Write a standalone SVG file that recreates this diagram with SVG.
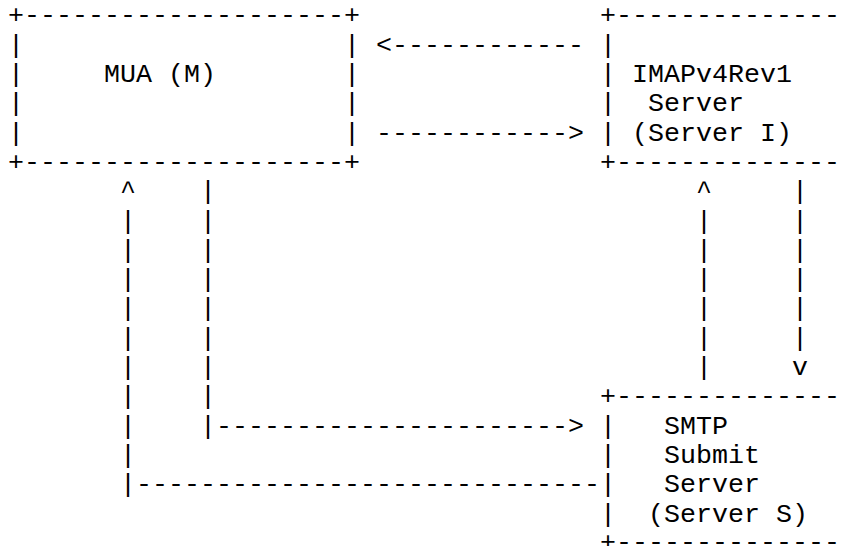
<svg xmlns="http://www.w3.org/2000/svg" width="846" height="546" viewBox="0 0 846 546">
<style>
text { font-family: "Liberation Mono", "Courier New", monospace; font-size: 26.66px; fill: #000; white-space: pre; }
</style>
<rect width="846" height="546" fill="#fff"/>
<g id="node-mua">
  <text x="8" y="23.4">+--------------------+</text>
  <text><tspan x="8" y="52.7">|</tspan><tspan x="8" y="82">|</tspan><tspan x="8" y="111.3">|</tspan><tspan x="8" y="140.6">|</tspan></text>
  <text><tspan x="344" y="52.7">|</tspan><tspan x="344" y="82">|</tspan><tspan x="344" y="111.3">|</tspan><tspan x="344" y="140.6">|</tspan></text>
  <text x="104" y="82">MUA (M)</text>
  <text x="8" y="169.9">+--------------------+</text>
</g>
<g id="node-imap">
  <text x="600" y="23.4">+--------------</text>
  <text><tspan x="600" y="52.7">|</tspan><tspan x="600" y="82">|</tspan><tspan x="600" y="111.3">|</tspan><tspan x="600" y="140.6">|</tspan></text>
  <text x="632" y="82">IMAPv4Rev1</text>
  <text x="648" y="111.3">Server</text>
  <text x="632" y="140.6">(Server I)</text>
  <text x="600" y="169.9">+--------------</text>
</g>
<g id="node-smtp">
  <text x="600" y="404.3">+--------------</text>
  <text><tspan x="600" y="433.6">|</tspan><tspan x="600" y="462.9">|</tspan><tspan x="600" y="492.2">|</tspan><tspan x="600" y="521.5">|</tspan></text>
  <text x="664" y="433.6">SMTP</text>
  <text x="664" y="462.9">Submit</text>
  <text x="664" y="492.2">Server</text>
  <text x="648" y="521.5">(Server S)</text>
  <text x="600" y="550">+--------------</text>
</g>
<g id="connectors">
  <text x="376" y="52.7">&lt;------------</text>
  <text x="376" y="140.6">------------&gt;</text>
  <text><tspan x="120" y="199.2">^</tspan><tspan x="120" y="228.5">|</tspan><tspan x="120" y="257.8">|</tspan><tspan x="120" y="287.1">|</tspan><tspan x="120" y="316.4">|</tspan><tspan x="120" y="345.7">|</tspan><tspan x="120" y="375">|</tspan><tspan x="120" y="404.3">|</tspan><tspan x="120" y="433.6">|</tspan><tspan x="120" y="462.9">|</tspan><tspan x="120" y="492.2">|</tspan></text>
  <text x="136" y="492.2">-----------------------------</text>
  <text><tspan x="200" y="199.2">|</tspan><tspan x="200" y="228.5">|</tspan><tspan x="200" y="257.8">|</tspan><tspan x="200" y="287.1">|</tspan><tspan x="200" y="316.4">|</tspan><tspan x="200" y="345.7">|</tspan><tspan x="200" y="375">|</tspan><tspan x="200" y="404.3">|</tspan><tspan x="200" y="433.6">|</tspan></text>
  <text x="216" y="433.6">----------------------&gt;</text>
  <text><tspan x="696" y="199.2">^</tspan><tspan x="696" y="228.5">|</tspan><tspan x="696" y="257.8">|</tspan><tspan x="696" y="287.1">|</tspan><tspan x="696" y="316.4">|</tspan><tspan x="696" y="345.7">|</tspan><tspan x="696" y="375">|</tspan></text>
  <text><tspan x="792" y="199.2">|</tspan><tspan x="792" y="228.5">|</tspan><tspan x="792" y="257.8">|</tspan><tspan x="792" y="287.1">|</tspan><tspan x="792" y="316.4">|</tspan><tspan x="792" y="345.7">|</tspan><tspan x="792" y="375">v</tspan></text>
</g>
</svg>
